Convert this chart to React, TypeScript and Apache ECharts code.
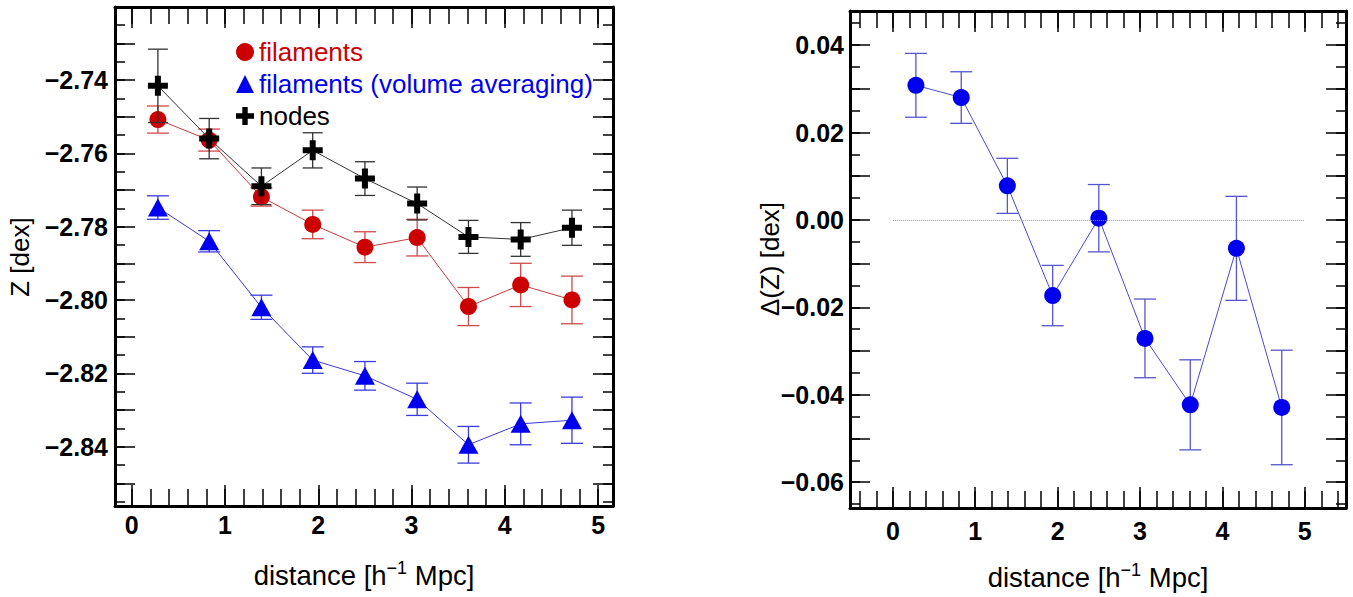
import React, { useEffect, useRef } from 'react';
import * as echarts from 'echarts';

// ---- data ----
const distance = [0.28, 0.83, 1.39, 1.94, 2.5, 3.06, 3.61, 4.17, 4.72];

const filamentsZ = [-2.7508, -2.7564, -2.7719, -2.7794, -2.7856, -2.783, -2.8018, -2.7959, -2.8];
const filamentsErr = [0.0037, 0.003, 0.0025, 0.0039, 0.0042, 0.005, 0.0052, 0.0059, 0.0065];

const volumeZ = [-2.7748, -2.784, -2.802, -2.8164, -2.8207, -2.8271, -2.8395, -2.8338, -2.8328];
const volumeErr = [0.0032, 0.0029, 0.0033, 0.0036, 0.0039, 0.0044, 0.005, 0.0057, 0.0063];

const nodesZ = [-2.7416, -2.756, -2.769, -2.7592, -2.7669, -2.7737, -2.7828, -2.7835, -2.7803];
const nodesErr = [0.01, 0.0055, 0.005, 0.0048, 0.0046, 0.0045, 0.0045, 0.0046, 0.0048];

const deltaZ = [0.0308, 0.028, 0.0078, -0.0173, 0.0004, -0.0271, -0.0423, -0.0065, -0.0429];
const deltaErr = [0.0073, 0.0059, 0.0063, 0.0069, 0.0077, 0.009, 0.0103, 0.0119, 0.0131];

const xTickLabels = [0, 1, 2, 3, 4, 5];
const leftYTickLabels = [-2.84, -2.82, -2.8, -2.78, -2.76, -2.74];
const rightYTickLabels = [-0.06, -0.04, -0.02, 0, 0.02, 0.04];
const zeroLine = [0, 5];

const seriesNames = ['filaments', 'filaments (volume averaging)', 'nodes'];

// ---- styling ----
const FONT = 'Liberation Sans';
const CROSS = 'path://M7,0H13V7H20V13H13V20H7V13H0V7H7Z';
const RED = '#cc0000';
const BLUE = '#0000ee';

const L = { xMin: -0.18, xMax: 5.16, yMin: -2.8562, yMax: -2.7201 };
const R = { xMin: -0.52, xMax: 5.5, yMin: -0.0659, yMax: 0.0478 };

function ticks(min: number, max: number, step: number) {
  const out: number[] = [];
  const k0 = Math.ceil(min / step - 1e-6);
  const k1 = Math.floor(max / step + 1e-6);
  for (let k = k0; k <= k1; k++) out.push(+(k * step).toFixed(4));
  return out;
}

const fmt = (v: number) => (Math.abs(v) < 1e-9 ? 0 : v).toFixed(2).replace('-', '\u2212');

function axis(
  grid: number,
  pos: string,
  min: number,
  max: number,
  vals: number[],
  len: number,
  main: boolean,
  labels?: number[],
  isY?: boolean,
  margin?: number
) {
  return {
    type: 'value',
    gridIndex: grid,
    position: pos,
    min,
    max,
    axisLine: { show: main, onZero: false, lineStyle: { color: '#000', width: 3 } },
    axisTick: {
      show: true,
      inside: true,
      length: len,
      customValues: vals,
      lineStyle: { color: '#000', width: 1.5 },
    },
    axisLabel: labels
      ? {
          show: true,
          customValues: labels,
          margin: margin ?? 8,
          color: '#000',
          fontWeight: 'bold',
          fontFamily: FONT,
          fontSize: 25,
          formatter: isY ? (v: number) => fmt(v) : (v: number) => String(Math.round(v)),
        }
      : { show: false },
    splitLine: { show: false },
  };
}

function errSeries(xi: number, yi: number, ys: number[], es: number[], color: string, cap: number, z: number) {
  return {
    type: 'custom',
    xAxisIndex: xi,
    yAxisIndex: yi,
    z,
    silent: true,
    data: distance.map((x, i) => [x, ys[i] - es[i], ys[i] + es[i]]),
    encode: { x: 0, y: [1, 2] },
    renderItem: (_p: any, api: any) => {
      const lo = api.coord([api.value(0), api.value(1)]);
      const hi = api.coord([api.value(0), api.value(2)]);
      const st = { stroke: color, lineWidth: 1.3 };
      return {
        type: 'group',
        children: [
          { type: 'line', shape: { x1: lo[0], y1: lo[1], x2: hi[0], y2: hi[1] }, style: st },
          { type: 'line', shape: { x1: lo[0] - cap, y1: lo[1], x2: lo[0] + cap, y2: lo[1] }, style: st },
          { type: 'line', shape: { x1: hi[0] - cap, y1: hi[1], x2: hi[0] + cap, y2: hi[1] }, style: st },
        ],
      };
    },
  };
}

function lineSeries(
  name: string,
  xi: number,
  yi: number,
  ys: number[],
  symbol: string,
  size: any,
  color: string,
  lineColor: string,
  z: number,
  extra?: any
) {
  return {
    type: 'line',
    name,
    xAxisIndex: xi,
    yAxisIndex: yi,
    z,
    data: distance.map((x, i) => [x, ys[i]]),
    symbol,
    symbolSize: size,
    showAllSymbol: true,
    itemStyle: { color, opacity: 1 },
    lineStyle: { color: lineColor, width: 1 },
    emphasis: { disabled: true },
    ...(extra || {}),
  };
}

const titleRich = {
  n: { fontFamily: FONT, fontSize: 27.5, fill: '#000', lineHeight: 32 },
  s: { fontFamily: FONT, fontSize: 18, fill: '#000', verticalAlign: 'top', lineHeight: 32 },
};

export default function App() {
  const ref = useRef<HTMLDivElement>(null);

  useEffect(() => {
    if (!ref.current) return;
    const chart = echarts.init(ref.current, null, { renderer: 'svg' });

    const xL1 = ticks(L.xMin, L.xMax, 1);
    const xL2 = ticks(L.xMin, L.xMax, 0.2);
    const yL1 = ticks(L.yMin, L.yMax, 0.01);
    const yL2 = ticks(L.yMin, L.yMax, 0.005);
    const xR1 = ticks(R.xMin, R.xMax, 1);
    const xR2 = ticks(R.xMin, R.xMax, 0.2);
    const yR1 = ticks(R.yMin, R.yMax, 0.01);
    const yR2 = ticks(R.yMin, R.yMax, 0.005);

    const option: any = {
      animation: false,
      grid: [
        { left: 115, top: 7, width: 498, height: 499 },
        { left: 850, top: 11, width: 496, height: 497 },
      ],
      xAxis: [
        axis(0, 'bottom', L.xMin, L.xMax, xL1, 21, true, xTickLabels, false, 6),
        axis(0, 'bottom', L.xMin, L.xMax, xL2, 17, false),
        axis(0, 'top', L.xMin, L.xMax, xL1, 21, true),
        axis(0, 'top', L.xMin, L.xMax, xL2, 17, false),
        axis(1, 'bottom', R.xMin, R.xMax, xR1, 21, true, xTickLabels, false, 10),
        axis(1, 'bottom', R.xMin, R.xMax, xR2, 17, false),
        axis(1, 'top', R.xMin, R.xMax, xR1, 21, true),
        axis(1, 'top', R.xMin, R.xMax, xR2, 17, false),
      ],
      yAxis: [
        axis(0, 'left', L.yMin, L.yMax, yL1, 20, true, leftYTickLabels, true, 7),
        axis(0, 'left', L.yMin, L.yMax, yL2, 10, false),
        axis(0, 'right', L.yMin, L.yMax, yL1, 20, true),
        axis(0, 'right', L.yMin, L.yMax, yL2, 10, false),
        axis(1, 'left', R.yMin, R.yMax, yR1, 20, true, rightYTickLabels, true, 6),
        axis(1, 'left', R.yMin, R.yMax, yR2, 10, false),
        axis(1, 'right', R.yMin, R.yMax, yR1, 20, true),
        axis(1, 'right', R.yMin, R.yMax, yR2, 10, false),
      ],
      legend: {
        orient: 'vertical',
        left: 231,
        top: 34,
        itemWidth: 18,
        itemHeight: 18,
        itemGap: 6,
        selectedMode: false,
        textStyle: { fontFamily: FONT, fontSize: 26 },
        data: [
          { name: seriesNames[0], icon: 'circle', textStyle: { color: RED } },
          { name: seriesNames[1], icon: 'triangle', textStyle: { color: BLUE } },
          { name: seriesNames[2], icon: CROSS, textStyle: { color: '#000' } },
        ],
      },
      series: [
        errSeries(0, 0, volumeZ, volumeErr, '#3b3bdd', 11, 2),
        lineSeries(seriesNames[1], 0, 0, volumeZ, 'triangle', [20, 18], BLUE, '#3a3ad8', 3),
        errSeries(0, 0, filamentsZ, filamentsErr, '#d04a4a', 11, 4),
        lineSeries(seriesNames[0], 0, 0, filamentsZ, 'circle', 17, RED, '#cc3a3a', 5),
        errSeries(0, 0, nodesZ, nodesErr, '#333333', 10, 6),
        lineSeries(seriesNames[2], 0, 0, nodesZ, CROSS, 20, '#000', '#333333', 7),
        errSeries(4, 4, deltaZ, deltaErr, '#5555cc', 11, 2),
        lineSeries('delta', 4, 4, deltaZ, 'circle', 17, BLUE, '#4a4acc', 3, {
          markLine: {
            silent: true,
            symbol: ['none', 'none'],
            label: { show: false },
            lineStyle: { color: '#999', type: 'dotted', width: 1 },
            data: [[{ coord: [zeroLine[0], 0] }, { coord: [zeroLine[1], 0] }]],
          },
        }),
      ],
      graphic: [
        {
          type: 'text',
          x: 364,
          y: 575,
          style: { text: '{n|distance [h}{s|\u22121}{n| Mpc]}', rich: titleRich, align: 'center', verticalAlign: 'middle' },
        },
        {
          type: 'text',
          x: 1098,
          y: 577,
          style: { text: '{n|distance [h}{s|\u22121}{n| Mpc]}', rich: titleRich, align: 'center', verticalAlign: 'middle' },
        },
        {
          type: 'text',
          x: 20,
          y: 257,
          rotation: Math.PI / 2,
          style: { text: 'Z [dex]', fontFamily: FONT, fontSize: 26, fill: '#000', align: 'center', verticalAlign: 'middle' },
        },
        {
          type: 'text',
          x: 770,
          y: 259,
          rotation: Math.PI / 2,
          style: { text: '\u0394(Z) [dex]', fontFamily: FONT, fontSize: 26, fill: '#000', align: 'center', verticalAlign: 'middle' },
        },
      ],
    };

    chart.setOption(option);
    return () => chart.dispose();
  }, []);

  return (
    <div
      ref={ref}
      style={{ position: 'fixed', left: 0, top: 0, width: 1353, height: 597, background: '#fff' }}
    />
  );
}
